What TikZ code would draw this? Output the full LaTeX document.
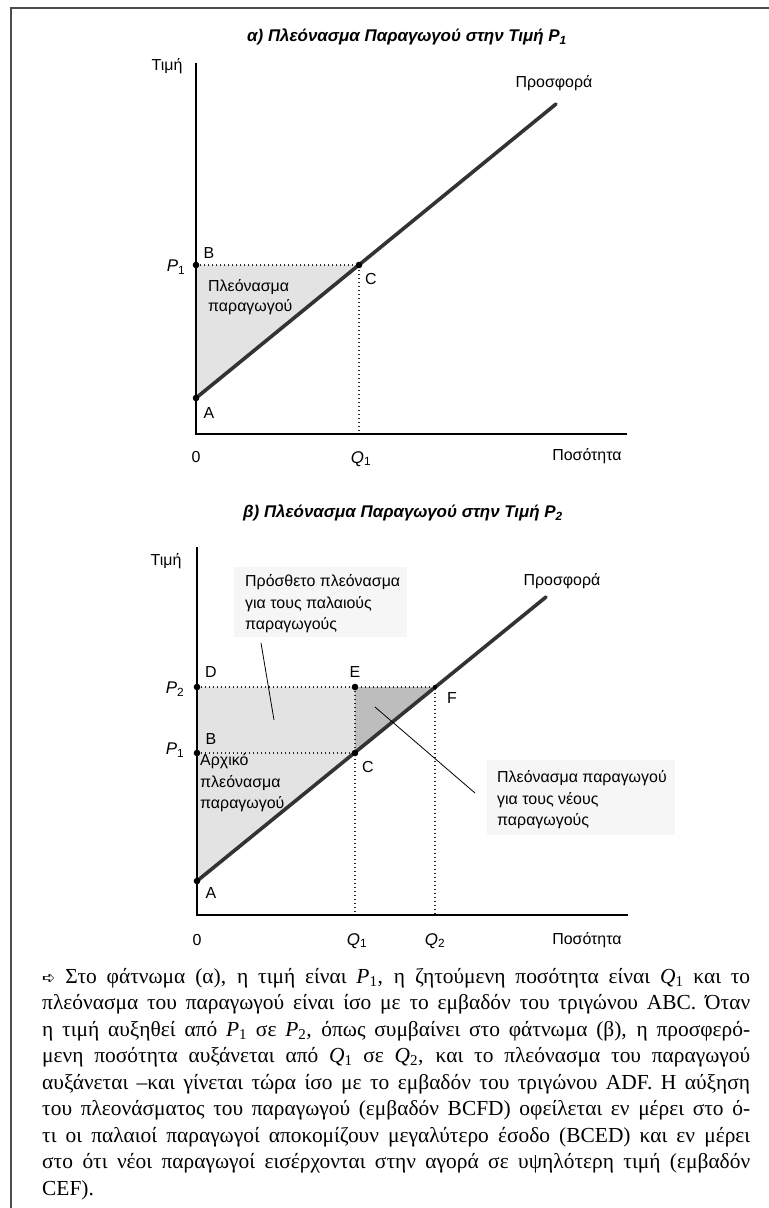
\documentclass[tikz,border=0pt]{standalone}
\usepackage{fontspec}
\setmainfont{Liberation Serif}
\newfontfamily\lsans{Liberation Sans}
\newfontfamily\dvs{DejaVu Sans}
\newcommand{\mysub}[2]{\textit{#1}\textsubscript{#2}}
\newcommand{\axsub}[2]{\textit{#1}\textsubscript{\upshape #2}}
\tikzset{
  axisline/.style={line width=1.1bp, black},
  supply/.style={line width=3.6bp, black!80, line cap=round},
  guide/.style={line width=1.4bp, dash pattern=on 1.4bp off 2.6bp, black!85},
  leader/.style={line width=0.8bp, black},
  lbl/.style={font=\lsans\fontsize{16}{21.5}\selectfont, inner sep=0pt},
  ttl/.style={font=\lsans\bfseries\itshape\fontsize{17}{20}\selectfont, inner sep=0pt},
  lightfill/.style={fill=gray!22},
  darkfill/.style={fill=gray!52},
  textbg/.style={fill=gray!7},
  frameline/.style={line width=1.4bp, black!70}
}
\begin{document}
\begin{tikzpicture}[x=1bp,y=-1bp]
\useasboundingbox (0,0) rectangle (769,1208);
% frame
\coordinate (fTL) at (11,8);
\coordinate (fTR) at (769,8);
\coordinate (fBL) at (11,1208);
\draw[frameline] (fTR) -- (fTL) -- (fBL);

% ================= panel a =================
\node[ttl] (ta) at (407,37) {α) Πλεόνασμα Παραγωγού στην Τιμή P\textsubscript{1}};
\coordinate (aO) at (196,434);
\coordinate (aY) at (196,63);
\coordinate (aX) at (627,434);
\coordinate (aA) at (196,398);
\coordinate (aB) at (196,265);
\coordinate (aC) at (359,265);
\coordinate (aQ) at (359,434);
\coordinate (aS) at (556,104);
\fill[lightfill] (aA) -- (aB) -- (aC) -- cycle;
\draw[guide] (aB) -- (aC) -- (aQ);
\draw[axisline] (aY) -- (aO) -- (aX);
\draw[supply] (aA) -- (aS);
\foreach \p in {aA,aB,aC} \fill (\p) circle (3.3bp);
\node[lbl] (aty) at (167,66) {Τιμή};
\node[lbl] (asup) at (554,83) {Προσφορά};
\node[lbl] (alB) at (209,253) {B};
\node[lbl,font=\lsans\fontsize{17}{20}\selectfont] (alP) at (176,267) {\axsub{P}{1}};
\node[lbl] (alC) at (371,279) {C};
\node[lbl] (alA) at (209,413) {A};
\node[lbl,align=left,anchor=west,font=\lsans\fontsize{16}{20}\selectfont] (ats) at (208,297) {Πλεόνασμα\\παραγωγού};
\node[lbl] (al0) at (196,457) {0};
\node[lbl,font=\lsans\fontsize{17}{20}\selectfont] (alQ) at (361,459) {\axsub{Q}{1}};
\node[lbl] (aqx) at (587,456) {Ποσότητα};

% ================= panel b =================
\node[ttl] (tb) at (403,513) {β) Πλεόνασμα Παραγωγού στην Τιμή P\textsubscript{2}};
\coordinate (bO) at (197,915);
\coordinate (bY) at (197,547);
\coordinate (bX) at (628,915);
\coordinate (bA) at (197,881);
\coordinate (bB) at (197,753);
\coordinate (bC) at (355,753);
\coordinate (bD) at (197,687);
\coordinate (bE) at (355,687);
\coordinate (bF) at (435,687);
\coordinate (bS) at (546,597);
\coordinate (bQa) at (355,915);
\coordinate (bQb) at (435,915);
% text backgrounds
\fill[textbg] (234,567) rectangle (407,637);
\fill[textbg] (487,760) rectangle (675,835);
% areas
\fill[lightfill] (bA) -- (bB) -- (bC) -- cycle;
\fill[lightfill] (bB) -- (bD) -- (bE) -- (bC) -- cycle;
\fill[darkfill] (bE) -- (bF) -- (bC) -- cycle;
\draw[guide] (bD) -- (bF) -- (bQb);
\draw[guide] (bB) -- (bC);
\draw[guide] (bE) -- (bQa);
\draw[axisline] (bY) -- (bO) -- (bX);
\draw[supply] (bA) -- (bS);
\foreach \p in {bA,bB,bC,bD,bE} \fill (\p) circle (3.3bp);
\fill (bF) circle (2.2bp);
\node[lbl] (bty) at (166,561) {Τιμή};
\node[lbl] (bsup) at (562,581) {Προσφορά};
\node[lbl] (blD) at (211,672) {D};
\node[lbl] (blE) at (355,672) {E};
\node[lbl] (blF) at (452,698) {F};
\node[lbl] (blB) at (211,739) {B};
\node[lbl] (blC) at (368,767) {C};
\node[lbl] (blA) at (211,893) {A};
\node[lbl,font=\lsans\fontsize{17}{20}\selectfont] (blP2) at (175,689) {\axsub{P}{2}};
\node[lbl,font=\lsans\fontsize{17}{20}\selectfont] (blP1) at (175,750) {\axsub{P}{1}};
\node[lbl] (bl0) at (197,940) {0};
\node[lbl,font=\lsans\fontsize{17}{20}\selectfont] (blQ1) at (357,941) {\axsub{Q}{1}};
\node[lbl,font=\lsans\fontsize{17}{20}\selectfont] (blQ2) at (435,941) {\axsub{Q}{2}};
\node[lbl] (bqx) at (587,940) {Ποσότητα};
\node[lbl,align=left,anchor=west] (bt1) at (245,604) {Πρόσθετο πλεόνασμα\\για τους παλαιούς\\παραγωγούς};
\node[lbl,align=left,anchor=west] (bt2) at (200,783) {Αρχικό\\πλεόνασμα\\παραγωγού};
\node[lbl,align=left,anchor=west] (bt3) at (497,800) {Πλεόνασμα παραγωγού\\για τους νέους\\παραγωγούς};
\coordinate (l1a) at (261,643);
\coordinate (l1b) at (274,720);
\coordinate (l2a) at (375,707);
\coordinate (l2b) at (475,793);
\draw[leader] (l1a) -- (l1b);
\draw[leader] (l2a) -- (l2b);

% ================= caption =================
\node[inner sep=0pt, anchor=base west] (cap) at (42,983) {\parbox[t]{708bp}{%
\fontsize{21.5}{26.6}\selectfont\tolerance=10000\hbadness=10000\hyphenpenalty=10000\parindent=0pt%
{\dvs\fontsize{16}{16}\selectfont ➪}\ Στο φάτνωμα (α), η τιμή είναι \mysub{P}{1}, η ζητούμενη ποσότητα είναι \mysub{Q}{1} και το\linebreak
πλεόνασμα του παραγωγού είναι ίσο με το εμβαδόν του τριγώνου ABC. Όταν\linebreak
η τιμή αυξηθεί από \mysub{P}{1} σε \mysub{P}{2}, όπως συμβαίνει στο φάτνωμα (β), η προσφερό-\linebreak
μενη ποσότητα αυξάνεται από \mysub{Q}{1} σε \mysub{Q}{2}, και το πλεόνασμα του παραγωγού\linebreak
αυξάνεται –και γίνεται τώρα ίσο με το εμβαδόν του τριγώνου ADF. Η αύξηση\linebreak
του πλεονάσματος του παραγωγού (εμβαδόν BCFD) οφείλεται εν μέρει στο ό-\linebreak
τι οι παλαιοί παραγωγοί αποκομίζουν μεγαλύτερο έσοδο (BCED) και εν μέρει\linebreak
στο ότι νέοι παραγωγοί εισέρχονται στην αγορά σε υψηλότερη τιμή (εμβαδόν\linebreak
CEF).}};
\end{tikzpicture}
\end{document}
